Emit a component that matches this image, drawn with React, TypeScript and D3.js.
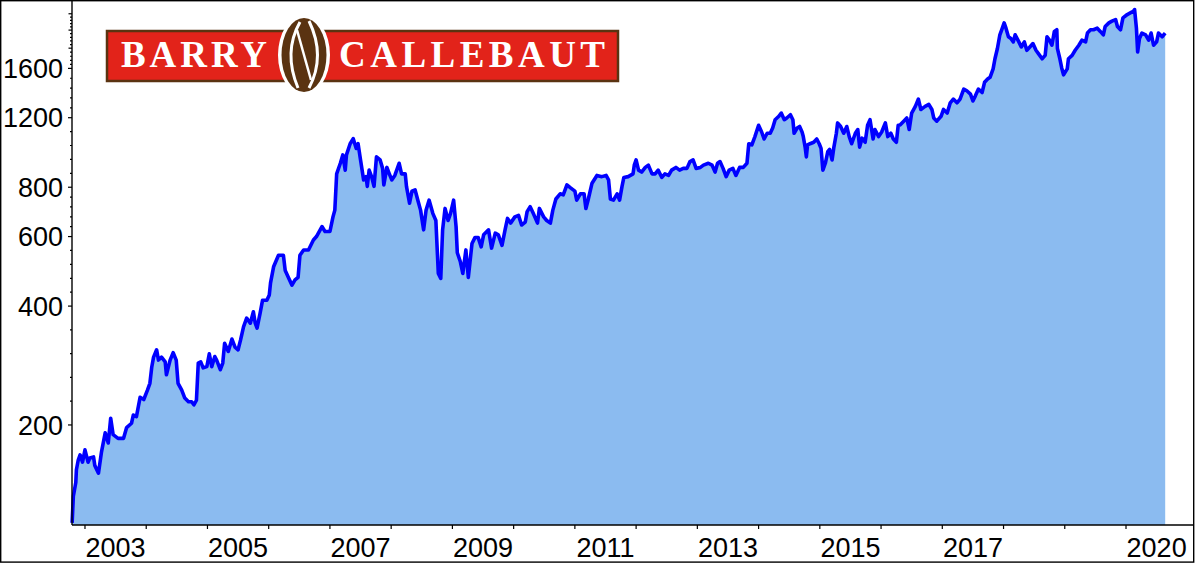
import React from "react";
import * as d3 from "d3";

// Barry Callebaut share price (CHF)
const dates = [
  2002.79, 2002.81, 2002.85, 2002.86, 2002.89, 2002.92, 2002.96, 2003.0, 2003.05, 2003.08,
  2003.14, 2003.16, 2003.22, 2003.27, 2003.33, 2003.38, 2003.42, 2003.46, 2003.54, 2003.63,
  2003.68, 2003.76, 2003.79, 2003.84, 2003.9, 2003.96, 2004.02, 2004.06, 2004.09, 2004.12,
  2004.17, 2004.2, 2004.25, 2004.31, 2004.33, 2004.39, 2004.44, 2004.49, 2004.52, 2004.58,
  2004.63, 2004.69, 2004.74, 2004.78, 2004.82, 2004.85, 2004.89, 2004.93, 2004.99, 2005.03,
  2005.07, 2005.12, 2005.15, 2005.21, 2005.25, 2005.28, 2005.34, 2005.4, 2005.45, 2005.5,
  2005.54, 2005.59, 2005.64, 2005.7, 2005.75, 2005.78, 2005.81, 2005.86, 2005.9, 2005.97,
  2006.01, 2006.03, 2006.08, 2006.16, 2006.24, 2006.27, 2006.32, 2006.38, 2006.43, 2006.48,
  2006.51, 2006.57, 2006.65, 2006.73, 2006.78, 2006.87, 2006.92, 2007.0, 2007.05, 2007.08,
  2007.11, 2007.17, 2007.21, 2007.25, 2007.27, 2007.33, 2007.38, 2007.43, 2007.46, 2007.5,
  2007.55, 2007.59, 2007.61, 2007.64, 2007.68, 2007.72, 2007.76, 2007.82, 2007.86, 2007.88,
  2007.93, 2007.97, 2008.01, 2008.06, 2008.13, 2008.17, 2008.23, 2008.25, 2008.3, 2008.34,
  2008.39, 2008.44, 2008.48, 2008.53, 2008.57, 2008.62, 2008.68, 2008.73, 2008.77, 2008.81,
  2008.84, 2008.88, 2008.93, 2008.97, 2009.02, 2009.06, 2009.08, 2009.13, 2009.17, 2009.22,
  2009.26, 2009.32, 2009.37, 2009.42, 2009.47, 2009.51, 2009.59, 2009.64, 2009.7, 2009.75,
  2009.81, 2009.86, 2009.9, 2009.95, 2010.02, 2010.08, 2010.13, 2010.19, 2010.22, 2010.27,
  2010.32, 2010.39, 2010.42, 2010.49, 2010.54, 2010.6, 2010.64, 2010.69, 2010.76, 2010.81,
  2010.87, 2010.93, 2011.0, 2011.03, 2011.09, 2011.15, 2011.18, 2011.22, 2011.28, 2011.36,
  2011.44, 2011.51, 2011.55, 2011.58, 2011.63, 2011.69, 2011.73, 2011.77, 2011.8, 2011.87,
  2011.95, 2011.97, 2012.0, 2012.04, 2012.09, 2012.15, 2012.2, 2012.26, 2012.31, 2012.36,
  2012.42, 2012.47, 2012.53, 2012.58, 2012.65, 2012.71, 2012.77, 2012.83, 2012.88, 2012.93,
  2012.98, 2013.05, 2013.1, 2013.18, 2013.24, 2013.29, 2013.33, 2013.37, 2013.42, 2013.47,
  2013.52, 2013.58, 2013.63, 2013.69, 2013.75, 2013.81, 2013.84, 2013.89, 2013.94, 2014.0,
  2014.05, 2014.09, 2014.14, 2014.19, 2014.23, 2014.27, 2014.33, 2014.37, 2014.42, 2014.46,
  2014.52, 2014.56, 2014.58, 2014.63, 2014.67, 2014.71, 2014.73, 2014.76, 2014.78, 2014.8,
  2014.84, 2014.9, 2014.95, 2014.99, 2015.02, 2015.05, 2015.09, 2015.13, 2015.16, 2015.2,
  2015.23, 2015.27, 2015.29, 2015.34, 2015.39, 2015.44, 2015.48, 2015.52, 2015.58, 2015.62,
  2015.65, 2015.69, 2015.74, 2015.78, 2015.82, 2015.87, 2015.9, 2015.96, 2016.01, 2016.07,
  2016.11, 2016.16, 2016.2, 2016.25, 2016.28, 2016.31, 2016.37, 2016.42, 2016.46, 2016.5,
  2016.56, 2016.61, 2016.65, 2016.72, 2016.78, 2016.83, 2016.86, 2016.91, 2016.98, 2017.02,
  2017.08, 2017.13, 2017.18, 2017.24, 2017.29, 2017.35, 2017.4, 2017.46, 2017.5, 2017.54,
  2017.59, 2017.65, 2017.69, 2017.74, 2017.78, 2017.83, 2017.86, 2017.9, 2017.94, 2017.97,
  2018.01, 2018.04, 2018.08, 2018.12, 2018.16, 2018.19, 2018.25, 2018.29, 2018.34, 2018.38,
  2018.43, 2018.48, 2018.53, 2018.57, 2018.63, 2018.68, 2018.71, 2018.75, 2018.79, 2018.83,
  2018.87, 2018.88, 2018.92, 2018.95, 2018.98, 2019.04, 2019.06, 2019.12, 2019.17, 2019.23,
  2019.28, 2019.34, 2019.37, 2019.42, 2019.47, 2019.53, 2019.58, 2019.63, 2019.66, 2019.72,
  2019.77, 2019.83, 2019.86, 2019.91, 2019.95, 2020.02, 2020.07, 2020.12, 2020.14, 2020.17,
  2020.19, 2020.22, 2020.26, 2020.32, 2020.37, 2020.41, 2020.45, 2020.5, 2020.53, 2020.59,
  2020.64,
];

const prices = [
  113, 132, 143, 154, 163, 168, 161, 173, 161, 165,
  166, 158, 151, 171, 191, 180, 208, 189, 185, 185,
  197, 202, 212, 210, 235, 232, 245, 255, 280, 297,
  310, 292, 297, 289, 268, 292, 305, 292, 255, 245,
  234, 229, 229, 225, 231, 287, 289, 279, 281, 303,
  281, 298, 292, 276, 287, 322, 307, 330, 315, 310,
  328, 355, 373, 362, 387, 362, 352, 384, 414, 414,
  427, 458, 503, 538, 538, 492, 473, 452, 466, 473,
  538, 555, 555, 588, 600, 636, 618, 618, 673, 700,
  865, 920, 966, 884, 966, 1031, 1062, 1003, 1031, 938,
  835, 851, 804, 884, 851, 804, 955, 938, 893, 811,
  898, 865, 835, 857, 920, 865, 865, 804, 729, 782,
  788, 737, 700, 624, 700, 742, 687, 659, 484, 470,
  624, 707, 659, 687, 742, 636, 546, 518, 484, 555,
  473, 576, 597, 597, 565, 606, 624, 561, 612, 606,
  570, 624, 667, 649, 673, 679, 642, 653, 694, 714,
  687, 649, 707, 673, 659, 649, 700, 747, 770, 765,
  811, 797, 782, 742, 770, 770, 707, 747, 819, 857,
  851, 857, 835, 747, 742, 770, 742, 804, 847, 851,
  865, 910, 938, 884, 874, 898, 910, 865, 865, 884,
  847, 865, 857, 884, 898, 884, 893, 893, 929, 938,
  893, 898, 910, 920, 910, 874, 920, 929, 893, 851,
  884, 893, 857, 898, 898, 920, 1031, 1024, 1075, 1148,
  1104, 1060, 1096, 1096, 1130, 1186, 1210, 1233, 1186, 1198,
  1221, 1186, 1096, 1130, 1140, 1104, 1075, 1011, 955, 1024,
  1031, 1040, 1060, 1031, 1003, 884, 920, 984, 997, 938,
  1011, 1096, 1164, 1140, 1096, 1140, 1075, 1031, 1096, 1120,
  1011, 1065, 1040, 1148, 1186, 1060, 1120, 1075, 1104, 1164,
  1075, 1096, 1060, 1040, 1148, 1150, 1176, 1198, 1120, 1233,
  1282, 1338, 1259, 1282, 1297, 1259, 1198, 1176, 1210, 1259,
  1233, 1309, 1338, 1309, 1338, 1418, 1404, 1377, 1323, 1363,
  1418, 1390, 1475, 1504, 1519, 1595, 1692, 1797, 1946, 2004,
  2086, 2023, 1924, 1905, 1867, 1946, 1867, 1813, 1867, 1778,
  1813, 1849, 1778, 1744, 1692, 1726, 1924, 1886, 1831, 1985,
  2004, 1797, 1692, 1604, 1541, 1595, 1692, 1726, 1778, 1831,
  1886, 1867, 1966, 2004, 2004, 2023, 1985, 1946, 2043, 2086,
  2107, 2127, 2043, 2004, 2148, 2190, 2211, 2233, 2255, 2023,
  1761, 1905, 1966, 1946, 1886, 1966, 1831, 1867, 1966, 1924,
  1966,
];

const yLabelTicks = [200, 400, 600, 800, 1200, 1600];
const yExtraTicks = [1800, 2000, 2200];
const xTickYears = d3.range(2003, 2021);
const xLabelYears = [2003, 2005, 2007, 2009, 2011, 2013, 2015, 2017, 2020];
const logoWords = ["BARRY", "CALLEBAUT"];

export default function App() {
  const W = 1195;
  const H = 563;
  const left = 72;
  const right = 1193;
  const top = 1;
  const bottom = 525;

  const x = d3.scaleLinear().domain([2002.788, 2021.094]).range([left, right]);
  const y = d3.scaleLog().domain([111.6, 2370]).range([bottom, top]);

  const data = dates.map((t, i) => ({ t, v: prices[i] }));
  const area = d3
    .area<{ t: number; v: number }>()
    .x((d) => x(d.t))
    .y0(bottom)
    .y1((d) => y(d.v));
  const line = d3
    .line<{ t: number; v: number }>()
    .x((d) => x(d.t))
    .y((d) => y(d.v));

  const chain = [...yLabelTicks, ...yExtraTicks];
  const minorY: number[] = [];
  for (let i = 0; i < chain.length - 1; i++) {
    const a = y(chain[i]);
    const b = y(chain[i + 1]);
    for (let k = 1; k < 5; k++) minorY.push(a + ((b - a) * k) / 5);
  }

  const font = "'Liberation Sans', Arial, sans-serif";
  const serif = "'Liberation Serif', 'Times New Roman', serif";

  return (
    <svg
      width={W}
      height={H}
      style={{ position: "absolute", left: 0, top: 0, background: "#fff" }}
    >
      <rect x={0} y={0} width={W} height={H} fill="#fff" />
      <path d={area(data) || ""} fill="#8BBBF0" />
      <path
        d={line(data) || ""}
        fill="none"
        stroke="#0000FF"
        strokeWidth={3.6}
        strokeLinejoin="round"
      />

      {/* logo */}
      <g>
        <rect x={107} y={31} width={511} height={50} fill="#E2231A" stroke="#5A3311" strokeWidth={2.5} />
        <text
          x={121}
          y={67}
          fill="#fff"
          fontFamily={serif}
          fontSize={37}
          fontWeight="bold"
          textLength={146}
          lengthAdjust="spacing"
        >
          {logoWords[0]}
        </text>
        <text
          x={339}
          y={67}
          fill="#fff"
          fontFamily={serif}
          fontSize={37}
          fontWeight="bold"
          textLength={266}
          lengthAdjust="spacing"
        >
          {logoWords[1]}
        </text>
        <ellipse cx={304} cy={55} rx={26} ry={40} fill="#fff" />
        <ellipse cx={304} cy={55} rx={22.5} ry={37} fill="#5A3311" />
        <path d="M300 22 Q283 52 298 88" fill="none" stroke="#fff" strokeWidth={3} />
        <path d="M309 21 Q326 56 309 88" fill="none" stroke="#fff" strokeWidth={3} />
        <path d="M297 30 Q304 55 311 80" fill="none" stroke="#fff" strokeWidth={2.5} />
      </g>

      {/* axes */}
      <line x1={left} x2={left} y1={top} y2={bottom} stroke="#000" strokeWidth={1.4} />
      <line x1={left} x2={right} y1={bottom} y2={bottom} stroke="#000" strokeWidth={1.4} />
      <rect x={0.7} y={0.7} width={W - 2} height={H - 1.6} fill="none" stroke="#000" strokeWidth={1.4} />

      {yLabelTicks.map((v) => (
        <g key={v}>
          <line x1={left - 4} x2={left} y1={y(v)} y2={y(v)} stroke="#000" strokeWidth={1.2} />
          <text
            x={63}
            y={y(v) + 9.6}
            textAnchor="end"
            fontFamily={font}
            fontSize={27}
            fill="#000"
          >
            {v}
          </text>
        </g>
      ))}
      {yExtraTicks.map((v) => (
        <line key={v} x1={left - 3.5} x2={left} y1={y(v)} y2={y(v)} stroke="#000" strokeWidth={1.2} />
      ))}
      {minorY.map((py, i) => (
        <line key={i} x1={left - 2} x2={left} y1={py} y2={py} stroke="#000" strokeWidth={1.2} />
      ))}

      {xTickYears.map((yr) => (
        <line key={yr} x1={x(yr)} x2={x(yr)} y1={bottom} y2={bottom + 4} stroke="#000" strokeWidth={1.2} />
      ))}
      {xLabelYears.map((yr) => (
        <text
          key={yr}
          x={x(yr + 0.5)}
          y={557}
          textAnchor="middle"
          fontFamily={font}
          fontSize={27}
          fill="#000"
        >
          {yr}
        </text>
      ))}
    </svg>
  );
}
